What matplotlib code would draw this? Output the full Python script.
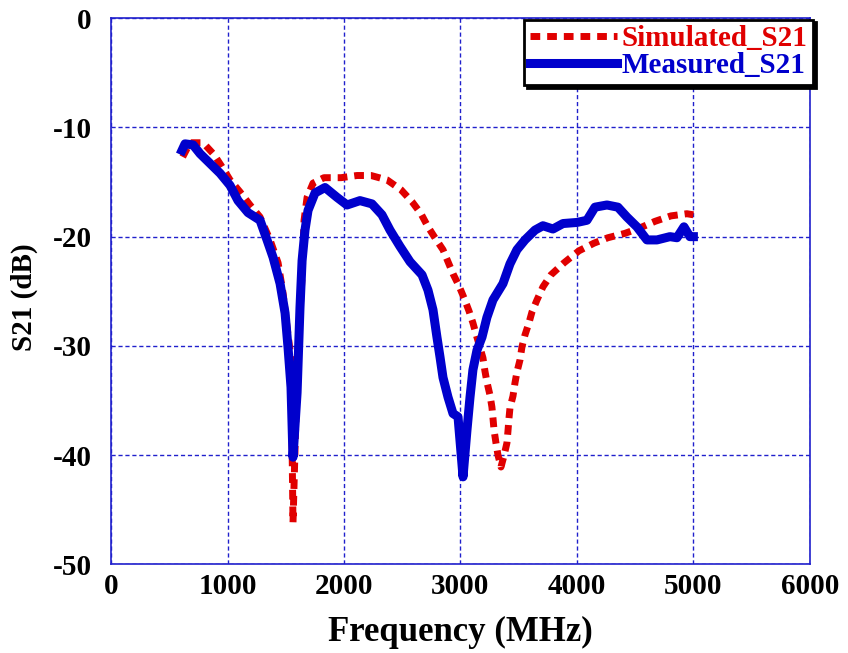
import matplotlib.pyplot as plt
import numpy as np

# Simulated S21
sim_freq = [615, 678, 790, 885, 952, 1021, 1107, 1193, 1279, 1365, 1434, 1477,
            1511, 1545, 1562, 1588, 1614, 1640, 1657, 1683, 1734, 1828, 1974,
            2112, 2232, 2369, 2489, 2584, 2661, 2721, 2781, 2850, 2893, 2936,
            2987, 3030, 3073, 3107, 3133, 3193, 3210, 3227, 3253, 3270, 3279,
            3288, 3305, 3322, 3348, 3373, 3399, 3408, 3416, 3425, 3451, 3468,
            3485, 3511, 3528, 3554, 3588, 3614, 3657, 3708, 3777, 3889, 4017,
            4146, 4266, 4412, 4541, 4670, 4807, 4944, 5000]
sim_s21 = [-12.7, -11.4, -11.4, -12.5, -13.6, -14.8, -15.9, -17.1, -18.2, -20.3,
           -22.4, -25.2, -28.3, -31.1, -46.2, -36.2, -28.3, -23.7, -18.5, -16.4,
           -15.1, -14.6, -14.6, -14.4, -14.4, -14.8, -15.7, -16.8, -17.9, -19.1,
           -20.1, -21.2, -22.3, -23.4, -24.5, -25.6, -26.8, -27.9, -28.9, -31.1,
           -32.3, -33.3, -34.5, -35.6, -36.6, -37.7, -38.9, -40.0, -41.1, -40.1,
           -38.9, -37.8, -36.7, -35.7, -34.6, -33.4, -32.4, -31.3, -30.1, -29.0,
           -27.9, -26.9, -25.8, -24.6, -23.5, -22.4, -21.3, -20.6, -20.1, -19.7,
           -19.2, -18.6, -18.1, -17.9, -18.0]

# Measured S21
meas_freq = [609, 635, 704, 764, 850, 936, 1021, 1090, 1176, 1279, 1339, 1391,
             1451, 1494, 1519, 1545, 1562, 1597, 1622, 1640, 1665, 1691, 1751,
             1837, 1940, 2026, 2137, 2240, 2326, 2395, 2481, 2567, 2670, 2721,
             2764, 2798, 2824, 2850, 2893, 2936, 2979, 3022, 3056, 3082, 3107,
             3142, 3185, 3227, 3279, 3365, 3425, 3485, 3554, 3640, 3708, 3794,
             3880, 4000, 4086, 4155, 4258, 4352, 4429, 4515, 4601, 4687, 4799,
             4859, 4919, 4970, 5000]
meas_s21 = [-12.1, -11.5, -11.6, -12.4, -13.3, -14.2, -15.3, -16.7, -17.8, -18.5,
            -20.3, -21.9, -24.3, -27.0, -30.1, -33.8, -40.2, -34.3, -26.5, -22.2,
            -19.4, -17.6, -16.0, -15.5, -16.4, -17.1, -16.7, -17.0, -18.0, -19.4,
            -20.9, -22.3, -23.5, -24.9, -26.7, -29.2, -31.0, -32.9, -34.7, -36.2,
            -36.5, -42.0, -37.7, -34.7, -32.2, -30.4, -29.2, -27.4, -25.8, -24.3,
            -22.5, -21.2, -20.3, -19.4, -19.0, -19.3, -18.8, -18.7, -18.5, -17.3,
            -17.1, -17.3, -18.2, -19.1, -20.3, -20.3, -20.0, -20.1, -19.1, -20.0,
            -20.0]

plt.rcParams["font.family"] = "Liberation Serif"
plt.rcParams["font.weight"] = "bold"
plt.rcParams["axes.unicode_minus"] = False

fig = plt.figure(figsize=(8.48, 6.53), dpi=100)
ax = fig.add_axes([0.131, 0.136, 0.824, 0.836])

ax.plot(sim_freq, sim_s21, color="#e00000", linewidth=5,
        linestyle=(0, (1.4, 1.0)), label="Simulated_S21", zorder=3)
ax.plot(meas_freq, meas_s21, color="#0000cc", linewidth=6.5,
        label="Measured_S21", zorder=4)

ax.set_xlim(0, 6000)
ax.set_ylim(-50, 0)
ax.set_xticks(np.arange(0, 6001, 1000))
ax.set_yticks(np.arange(-50, 1, 10))
ax.grid(True, color="#2020cc", linestyle=(0, (3, 2)), linewidth=1)
for s in ax.spines.values():
    s.set_color("#2020cc")
    s.set_linewidth(1.2)
ax.tick_params(direction="in", length=0, labelsize=21)
ax.tick_params(axis="y", pad=14)
ax.tick_params(axis="x", pad=6)

ax.set_xlabel("Frequency (MHz)", fontsize=25, fontweight="bold", labelpad=12)
ax.set_ylabel("S21 (dB)", fontsize=21, fontweight="bold")
ax.yaxis.set_label_coords(-0.105, 0.49)

leg = ax.legend(loc="upper right", bbox_to_anchor=(0.959, 0.97),
                bbox_transform=fig.transFigure, fontsize=21, frameon=True,
                fancybox=False, shadow={"color": "black", "alpha": 1},
                handlelength=3.0, handletextpad=0.15, borderpad=0.2,
                labelspacing=0.0, borderaxespad=0)
leg.get_frame().set_edgecolor("black")
leg.get_frame().set_linewidth(2)
for txt, line in zip(leg.get_texts(), leg.get_lines()):
    txt.set_color(line.get_color())

fig.savefig("out.png", dpi=100)
